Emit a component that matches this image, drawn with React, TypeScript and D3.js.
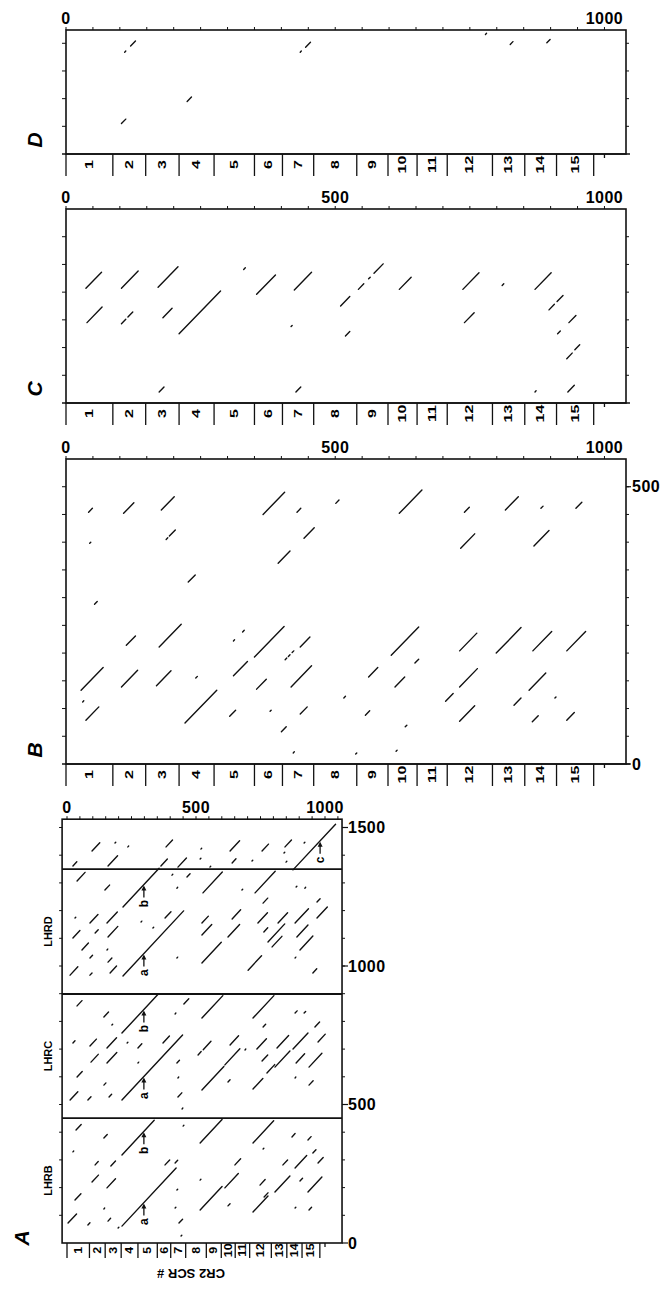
import React from 'react';
import * as d3 from 'd3';

// SCR boundaries along the CR2 sequence (shared by all panels)
const scrBounds = [0, 87, 148, 210, 275, 350, 402, 460, 540, 598, 652, 708, 792, 852, 911, 980];
const scrNames = ['1', '2', '3', '4', '5', '6', '7', '8', '9', '10', '11', '12', '13', '14', '15'];
const topTickLabels = [0, 500, 1000];
const topTickLabelsD = [0, 1000];
const rightLabelsB = [0, 500];
const rightLabelsA = [0, 500, 1000, 1500];
const sectionBreaksA = [0, 451, 899, 1350];
const sectionNamesA = ['LHRB', 'LHRC', 'LHRD'];

// matches: [x start, y start, length]
const segsD = [
  [109, 184, 2], [120, 195, 9], [435, 184, 2], [445, 193, 9], [225, 95, 8], [103, 55, 8],
  [779, 216, 2], [825, 198, 5], [893, 201, 6],
];

const segsC = [
  [37, 207, 29], [103, 207, 31], [171, 209, 37], [330, 241, 3], [354, 196, 35], [424, 204, 32],
  [543, 205, 10], [562, 224, 3], [572, 234, 17], [619, 205, 22], [737, 205, 30], [810, 212, 3],
  [871, 205, 30], [39, 145, 28], [103, 143, 8], [115, 155, 9], [180, 154, 17], [210, 125, 77],
  [418, 138, 2], [510, 175, 17], [519, 121, 8], [740, 145, 18], [897, 168, 10], [912, 183, 11],
  [934, 145, 13], [913, 125, 5], [930, 80, 10], [945, 96, 9], [173, 20, 9], [427, 20, 9],
  [932, 20, 12], [871, 20, 2],
];

const segsB = [
  [42, 454, 7], [107, 452, 19], [177, 458, 24], [366, 450, 40], [429, 454, 7], [501, 470, 6],
  [619, 452, 42], [740, 454, 9], [816, 458, 24], [882, 461, 4], [947, 461, 11],
  [44, 398, 2], [186, 405, 3], [192, 411, 11], [442, 407, 19], [733, 389, 26], [869, 393, 28],
  [394, 362, 22], [227, 328, 13], [53, 288, 5],
  [112, 214, 17], [173, 211, 41], [311, 222, 2], [328, 238, 3], [350, 193, 55], [407, 188, 3],
  [413, 194, 3], [420, 201, 3], [435, 211, 18], [604, 196, 51], [731, 204, 32], [799, 200, 46],
  [867, 204, 35], [930, 204, 35],
  [28, 133, 41], [103, 139, 30], [168, 141, 27], [241, 155, 3], [311, 159, 26], [354, 135, 18],
  [418, 139, 38], [562, 157, 17], [611, 139, 18], [648, 182, 7], [731, 139, 33], [860, 133, 31],
  [31, 112, 2], [37, 79, 24], [221, 74, 59], [304, 86, 11], [379, 95, 2], [435, 90, 13],
  [400, 58, 9], [516, 119, 3], [556, 88, 8], [630, 67, 3], [705, 113, 14], [731, 77, 28],
  [613, 23, 2], [538, 18, 2], [422, 20, 2], [832, 106, 13], [908, 119, 2], [866, 76, 11],
  [930, 79, 14],
];

const segsA = [
  // upper block
  [97, 1415, 30], [186, 1444, 3], [236, 1430, 3], [384, 1430, 25], [519, 1422, 3], [632, 1415, 37],
  [756, 1415, 25], [845, 1430, 25], [919, 1444, 3], [841, 1408, 3], [876, 1347, 165],
  [23, 1361, 15], [159, 1361, 37], [364, 1361, 25], [430, 1357, 33], [516, 1386, 3],
  [554, 1357, 3], [640, 1372, 15], [717, 1379, 3], [849, 1375, 3],
  // LHRD
  [39, 1307, 31], [217, 1213, 140], [147, 1274, 18], [407, 1328, 3], [465, 1321, 12],
  [426, 1281, 3], [527, 1264, 75], [678, 1274, 3], [729, 1264, 78], [760, 1227, 18],
  [888, 1285, 3], [922, 1281, 3], [969, 1231, 12], [31, 1173, 3], [89, 1155, 31],
  [155, 1155, 40], [287, 1159, 3], [380, 1173, 23], [523, 1155, 25], [640, 1170, 33],
  [740, 1155, 37], [818, 1155, 37], [884, 1155, 52], [969, 1173, 40], [217, 964, 235],
  [23, 1101, 27], [109, 1119, 12], [159, 1105, 38], [333, 1137, 3], [523, 1112, 38],
  [624, 1105, 45], [763, 1123, 15], [779, 1087, 65], [891, 1105, 43], [58, 1058, 25],
  [155, 1058, 3], [523, 1011, 75], [702, 985, 52], [795, 1069, 38], [903, 1058, 50],
  [884, 1029, 3], [89, 1029, 10], [159, 1014, 15], [12, 967, 30], [89, 967, 8],
  [167, 975, 25], [426, 1029, 3], [953, 975, 15],
  // LHRC
  [213, 758, 140], [213, 516, 235], [39, 856, 19], [143, 816, 18], [174, 787, 3], [453, 863, 19],
  [419, 827, 3], [523, 812, 81], [721, 812, 81], [760, 780, 10], [884, 830, 8], [919, 830, 6],
  [961, 780, 18], [23, 722, 8], [89, 711, 25], [155, 704, 37], [233, 722, 3], [275, 704, 15],
  [372, 722, 25], [508, 679, 12], [528, 698, 30], [632, 715, 33], [736, 700, 37],
  [814, 704, 45], [876, 700, 58], [973, 726, 28], [690, 697, 3], [93, 653, 28], [155, 650, 38],
  [275, 650, 3], [426, 650, 10], [612, 643, 58], [756, 657, 22], [806, 635, 58], [888, 650, 33],
  [938, 635, 50], [39, 599, 20], [523, 552, 85], [624, 581, 8], [721, 556, 38], [775, 614, 30],
  [884, 596, 3], [938, 570, 16], [12, 516, 30], [81, 516, 12], [143, 570, 8], [163, 527, 10],
  [430, 527, 15], [430, 596, 3], [446, 484, 3],
  // LHRB
  [213, 318, 125], [213, 61, 210], [35, 408, 20], [143, 379, 13], [450, 422, 3], [516, 361, 85],
  [721, 361, 80], [760, 339, 3], [872, 383, 12], [934, 372, 12], [953, 325, 12], [23, 329, 3],
  [109, 282, 12], [170, 278, 18], [380, 282, 18], [419, 289, 10], [651, 282, 22], [837, 282, 18],
  [884, 271, 45], [973, 289, 20], [97, 220, 25], [155, 199, 33], [516, 227, 3], [612, 199, 52],
  [748, 209, 20], [806, 184, 58], [903, 224, 10], [934, 184, 54], [31, 155, 23], [426, 191, 3],
  [516, 119, 85], [624, 134, 8], [721, 112, 58], [764, 166, 15], [884, 126, 3], [938, 119, 10],
  [4, 72, 33], [81, 65, 8], [143, 123, 3], [159, 79, 10], [198, 54, 3], [434, 72, 14],
  [419, 126, 3], [442, 25, 3],
];

// repeat markers a, b, c in panel A
const markLabels = ['a', 'b', 'a', 'b', 'a', 'b', 'c'];
const markX = [298, 298, 298, 298, 298, 298, 981];
const markY = [146, 403, 601, 843, 1045, 1294, 1452];

const FONT = '"Liberation Sans", Arial, Helvetica, sans-serif';

const xBD = d3.scaleLinear().domain([0, 1040]).range([66, 626]);
const yB = d3.scaleLinear().domain([0, 550]).range([764, 459]);
const yC = d3.scaleLinear().domain([0, 350]).range([403, 209]);
const yD = d3.scaleLinear().domain([0, 224]).range([154, 30]);
const xA = d3.scaleLinear().domain([0, 1000]).range([67, 325]);
const yA = d3.scaleLinear().domain([0, 1500]).range([1243, 827.5]);

function Segs({ segs, x, y }) {
  return (
    <g stroke="#111" strokeWidth={1.4} strokeLinecap="round">
      {segs.map(([sx, sy, len], i) => {
        const l = Math.max(len, 1.2);
        return <line key={i} x1={x(sx)} y1={y(sy)} x2={x(sx + l)} y2={y(sy + l)} />;
      })}
    </g>
  );
}

function Strip({ x, y0, h, fs, stretch }) {
  return (
    <g>
      {scrBounds.map((b, i) => (
        <line key={i} x1={x(b)} x2={x(b)} y1={y0} y2={y0 + h} stroke="#111" strokeWidth={1.3} />
      ))}
      <line x1={x(1000)} x2={x(1000)} y1={y0} y2={y0 + 4} stroke="#111" strokeWidth={1.3} />
      {scrNames.map((n, i) => {
        const cx = (x(scrBounds[i]) + x(scrBounds[i + 1])) / 2;
        const cy = y0 + h * 0.48;
        return (
          <g key={n} transform={`translate(${cx},${cy}) rotate(-90) scale(${stretch},1)`}>
            <text x={0} y={0} textAnchor="middle" dominantBaseline="central" fontSize={fs}
              fontWeight="bold" fontFamily={FONT}>{n}</text>
          </g>
        );
      })}
    </g>
  );
}

function TopAxis({ x, yTop, xMax, labels }) {
  return (
    <g>
      {d3.range(0, xMax, 50).map((t) => (
        <line key={t} x1={x(t)} x2={x(t)} y1={yTop} y2={yTop - 3} stroke="#111" strokeWidth={1} />
      ))}
      {labels.map((t) => (
        <text key={t} x={x(t)} y={yTop - 6} textAnchor="middle" fontSize={16} fontWeight="bold"
          fontFamily={FONT} letterSpacing={0.5}>{t}</text>
      ))}
    </g>
  );
}

function PanelLetter({ px, py, t }) {
  return (
    <text x={px} y={py} transform={`rotate(-90 ${px} ${py})`} textAnchor="middle" dominantBaseline="central"
      fontSize={21} fontWeight="bold" fontStyle="italic" fontFamily={FONT}>{t}</text>
  );
}

function DotPanel({ y, yMax, segs, letter, rightLabels, topLabels }) {
  const xMax = 1040;
  const yb = y(0);
  const yt = y(yMax);
  const xl = xBD(0);
  const xr = xBD(xMax);
  return (
    <g>
      <rect x={xl} y={yt} width={xr - xl} height={yb - yt} fill="none" stroke="#111" strokeWidth={1.6} />
      <line x1={xl - 4} x2={xr + 4} y1={yb} y2={yb} stroke="#111" strokeWidth={1.6} />
      <TopAxis x={xBD} yTop={yt} xMax={xMax} labels={topLabels} />
      {d3.range(50, yMax, 50).map((t) => (
        <g key={t}>
          <line x1={xl} x2={xl - 4} y1={y(t)} y2={y(t)} stroke="#111" strokeWidth={1} />
          <line x1={xr} x2={xr + 3} y1={y(t)} y2={y(t)} stroke="#111" strokeWidth={1} />
        </g>
      ))}
      {rightLabels.map((t) => (
        <g key={t}>
          <line x1={xr} x2={xr + 5} y1={y(t)} y2={y(t)} stroke="#111" strokeWidth={1.2} />
          <text x={xr + 6} y={y(t)} dominantBaseline="central" fontSize={16} fontWeight="bold"
            fontFamily={FONT} letterSpacing={0.5}>{t}</text>
        </g>
      ))}
      <Strip x={xBD} y0={yb} h={22} fs={11} stretch={1.45} />
      <Segs segs={segs} x={xBD} y={y} />
      <PanelLetter px={34} py={yb - 14} t={letter} />
    </g>
  );
}

function PanelA() {
  const xMin = -19;
  const xMax = 1066;
  const yMax = 1530;
  const xl = xA(xMin);
  const xr = xA(xMax);
  const yb = yA(0);
  const yt = yA(yMax);
  return (
    <g>
      <rect x={xl} y={yt} width={xr - xl} height={yb - yt} fill="none" stroke="#111" strokeWidth={1.6} />
      {sectionBreaksA.slice(1).map((s) => (
        <line key={s} x1={xl} x2={xr} y1={yA(s)} y2={yA(s)} stroke="#111" strokeWidth={1.8} />
      ))}
      <TopAxis x={xA} yTop={yt} xMax={xMax} labels={topTickLabels} />
      {d3.range(100, yMax, 100).map((t) => (
        <g key={t}>
          <line x1={xl} x2={xl - 3} y1={yA(t)} y2={yA(t)} stroke="#111" strokeWidth={1} />
          <line x1={xr} x2={xr + 3} y1={yA(t)} y2={yA(t)} stroke="#111" strokeWidth={1} />
        </g>
      ))}
      {rightLabelsA.map((t) => (
        <g key={t}>
          <line x1={xr} x2={xr + 6} y1={yA(t)} y2={yA(t)} stroke="#111" strokeWidth={1.2} />
          <text x={xr + 6} y={yA(t)} dominantBaseline="central" fontSize={16} fontWeight="bold"
            fontFamily={FONT} letterSpacing={0.5}>{t}</text>
        </g>
      ))}
      {sectionNamesA.map((n, i) => {
        const cy = yA((sectionBreaksA[i] + sectionBreaksA[i + 1]) / 2);
        return (
          <text key={n} x={48} y={cy} transform={`rotate(-90 48 ${cy})`} textAnchor="middle"
            dominantBaseline="central" fontSize={11} fontWeight="bold" fontFamily={FONT}>{n}</text>
        );
      })}
      <Segs segs={segsA} x={xA} y={yA} />
      {markLabels.map((m, i) => {
        const mx = xA(markX[i]);
        const my = yA(markY[i]);
        return (
          <g key={i}>
            <line x1={mx} x2={mx} y1={my + 3} y2={my + 13} stroke="#111" strokeWidth={1.3} />
            <path d={`M${mx - 2.5},${my + 6} L${mx},${my + 1} L${mx + 2.5},${my + 6} Z`} fill="#111" />
            <text x={mx} y={my + 19} transform={`rotate(-90 ${mx} ${my + 19})`} textAnchor="middle"
              dominantBaseline="central" fontSize={12} fontWeight="bold" fontFamily={FONT}>{m}</text>
          </g>
        );
      })}
      <Strip x={xA} y0={yb} h={15} fs={10} stretch={1.25} />
      <text x={191} y={1273} transform="rotate(180 191 1273)" textAnchor="middle" dominantBaseline="central"
        fontSize={13} fontWeight="bold" fontFamily={FONT}>CR2 SCR #</text>
      <PanelLetter px={21} py={1238} t="A" />
    </g>
  );
}

export default function App() {
  return (
    <svg width={667} height={1289} style={{ position: 'absolute', left: 0, top: 0, background: '#fff' }}>
      <rect width={667} height={1289} fill="#fff" />
      <DotPanel y={yD} yMax={224} segs={segsD} letter="D" rightLabels={[]} topLabels={topTickLabelsD} />
      <DotPanel y={yC} yMax={350} segs={segsC} letter="C" rightLabels={[]} topLabels={topTickLabels} />
      <DotPanel y={yB} yMax={550} segs={segsB} letter="B" rightLabels={rightLabelsB} topLabels={topTickLabels} />
      <PanelA />
    </svg>
  );
}
